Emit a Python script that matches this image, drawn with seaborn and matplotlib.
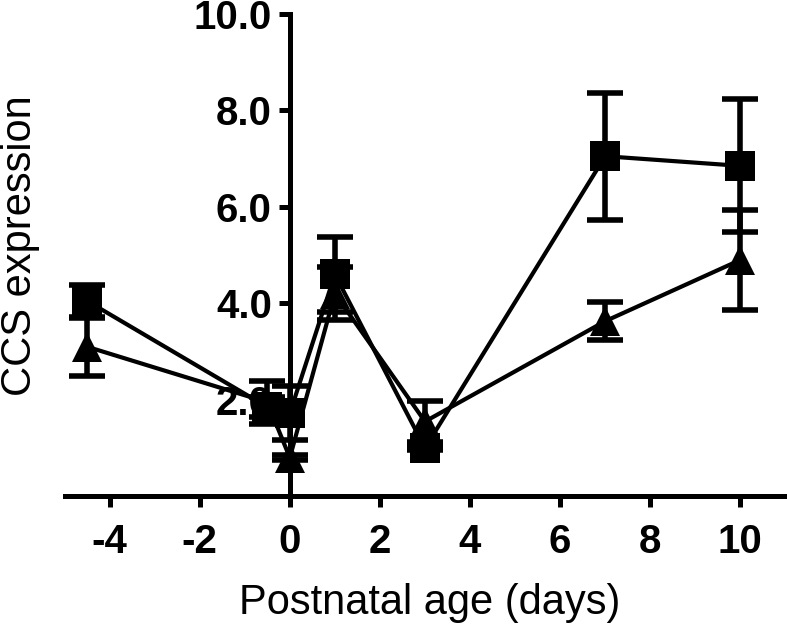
import matplotlib
matplotlib.use('Agg')
import matplotlib.pyplot as plt
import seaborn as sns
import pandas as pd

# Dados
idade = [-4.5, -0.5, 0, 1, 3, 7, 10]
quadrados = [4.05, 1.85, 1.72, 4.6, 1.0, 7.05, 6.85]
quadrados_erro = [0.34, 0.2, 0.56, 0.77, 0.05, 1.32, 1.38]
triangulos = [3.1, 1.95, 0.8, 4.2, 1.55, 3.63, 4.9]
triangulos_erro = [0.6, 0.45, 0.05, 0.55, 0.42, 0.4, 1.03]

x_ticks = [-4, -2, 0, 2, 4, 6, 8, 10]
y_ticks = [2.0, 4.0, 6.0, 8.0, 10.0]

df = pd.DataFrame({
    "idade": idade * 2,
    "valor": quadrados + triangulos,
    "erro": quadrados_erro + triangulos_erro,
    "grupo": ["quadrado"] * len(idade) + ["triangulo"] * len(idade),
})

sns.set_style("ticks")
plt.rcParams['font.family'] = ['Liberation Sans', 'DejaVu Sans']
plt.rcParams['text.color'] = 'black'
plt.rcParams['axes.labelcolor'] = 'black'
plt.rcParams['xtick.color'] = 'black'
plt.rcParams['ytick.color'] = 'black'

fig = plt.figure(figsize=(7.87, 6.33), dpi=100)
ax = fig.add_axes([0.082, 0.216, 0.916, 0.762])

marcadores = {"quadrado": ("s", 21), "triangulo": ("^", 21)}
for grupo, sub in df.groupby("grupo"):
    m, ms = marcadores[grupo]
    ax.errorbar(sub["idade"], sub["valor"], yerr=sub["erro"], fmt='none',
                ecolor='black', elinewidth=4, capsize=13, capthick=4,
                zorder=2, clip_on=False)
    sns.lineplot(data=sub, x="idade", y="valor", color='black', linewidth=3,
                 marker=m, markersize=ms, markeredgewidth=0, ax=ax,
                 estimator=None, sort=False, zorder=3, clip_on=False)

ax.set_xlim(-5, 11)
ax.set_ylim(0, 10)
ax.spines['left'].set_position(('data', 0))
ax.spines['left'].set_bounds(0, 10)
ax.spines['top'].set_visible(False)
ax.spines['right'].set_visible(False)
for s in ['left', 'bottom']:
    ax.spines[s].set_linewidth(3.6)
    ax.spines[s].set_color('black')

ax.set_xticks(x_ticks)
ax.set_xticklabels([str(t) for t in x_ticks])
ax.set_yticks(y_ticks)
ax.set_yticklabels([f"{t:.1f}" for t in y_ticks])
ax.tick_params(axis='both', direction='out', length=8, width=3.6,
               color='black', labelcolor='black', labelsize=29)
ax.tick_params(axis='x', pad=11)
ax.tick_params(axis='y', pad=5)
for lab in ax.get_xticklabels() + ax.get_yticklabels():
    lab.set_fontweight('bold')

ax.set_xlabel("Postnatal age (days)", fontsize=30, color='black')
ax.set_ylabel("CCS expression", fontsize=30, color='black')
ax.xaxis.set_label_coords(0.507, -0.18)
ax.yaxis.set_label_coords(-0.034, 0.52)

plt.savefig("out.png", dpi=100)
